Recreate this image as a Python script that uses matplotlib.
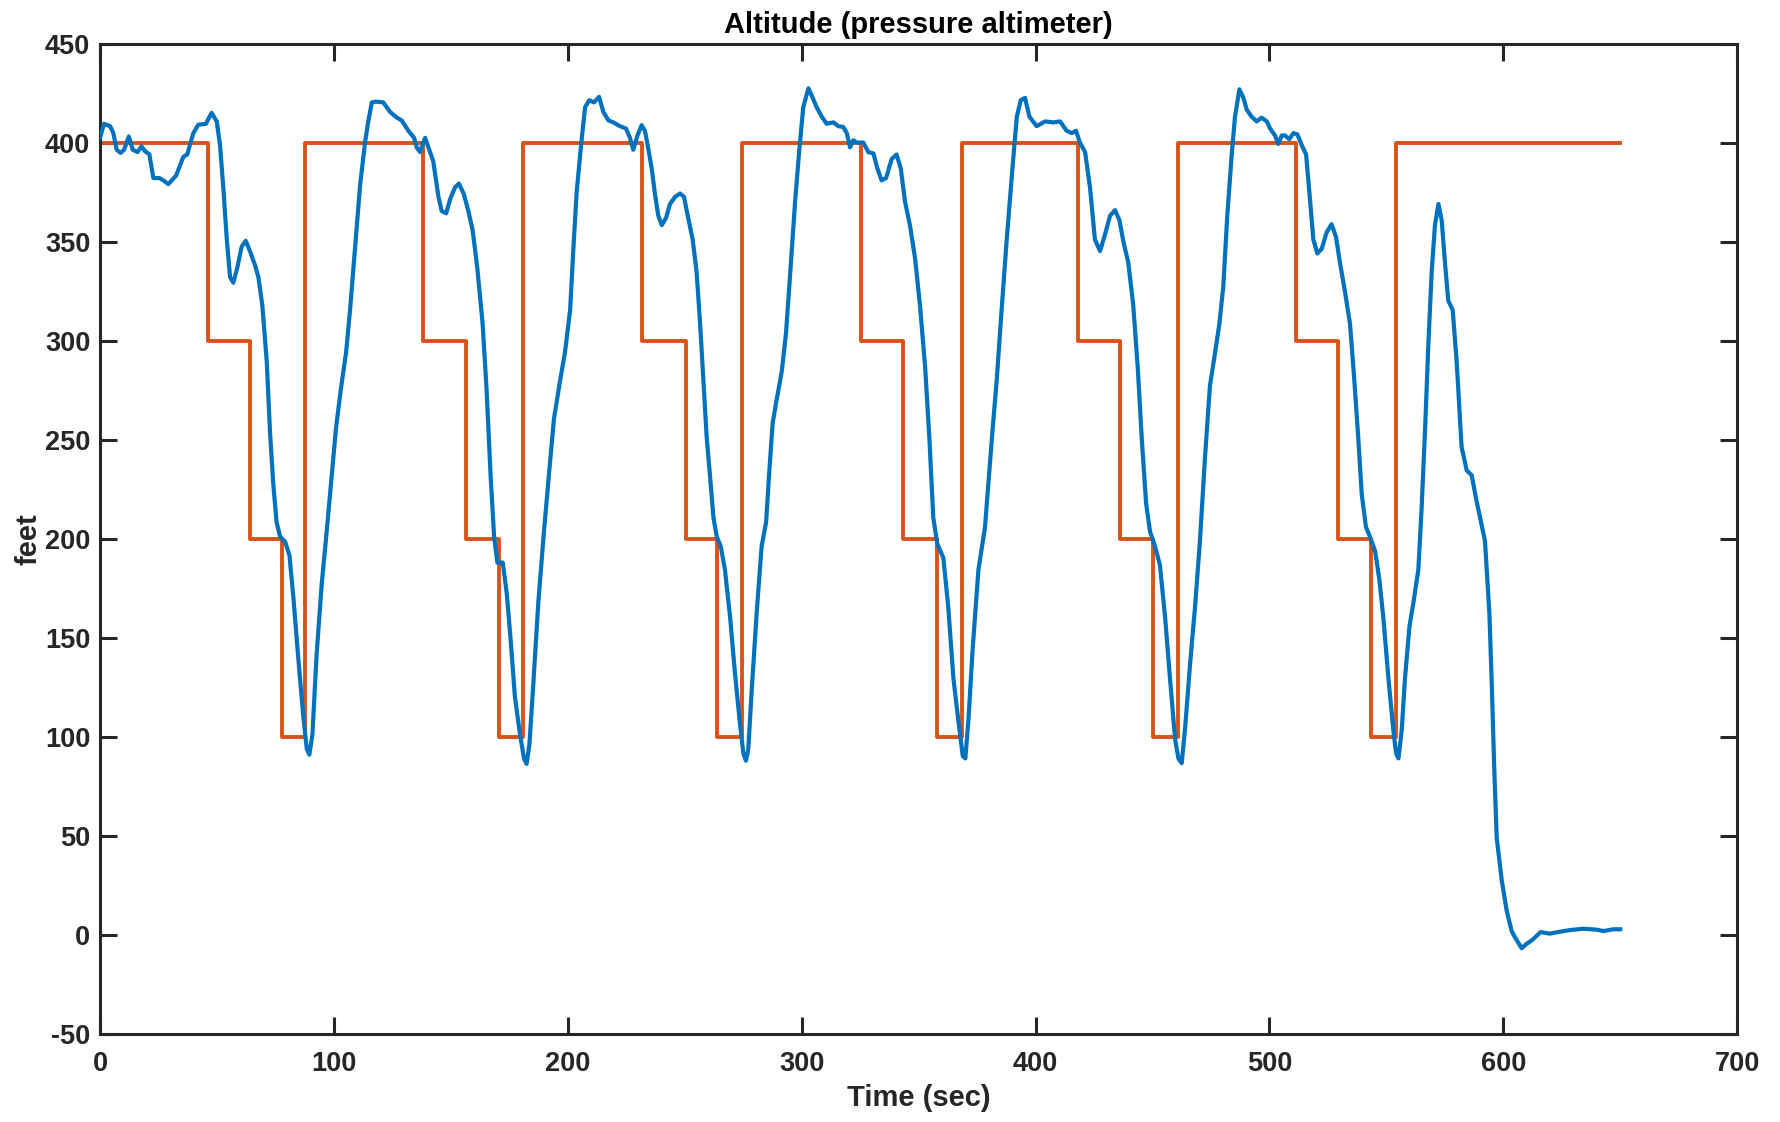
import matplotlib.pyplot as plt

# altitude command (step profile), sec / feet
cmd_t = [0, 46.0, 64.1, 77.7, 87.8,
         138.3, 156.5, 170.4, 180.9,
         231.9, 250.4, 264.0, 274.3,
         325.2, 343.5, 357.7, 368.5,
         418.3, 436.2, 450.1, 460.9,
         511.3, 529.5, 543.5, 554.0, 650.0]
cmd_alt = [400, 300, 200, 100, 400,
           300, 200, 100, 400,
           300, 200, 100, 400,
           300, 200, 100, 400,
           300, 200, 100, 400,
           300, 200, 100, 400, 400]

alt_t = [0, 1.7, 4.3, 5.7, 7.1, 8.8, 10.3, 12.3, 14.0, 16.0, 17.7, 19.2, 21.1, 22.8,
         25.4, 27.1, 29.2, 32.5, 35.6, 37.3, 39.9, 42.0, 45.3, 46.3, 47.7, 49.9, 51.3,
         52.7, 54.2, 55.6, 57.0, 58.7, 60.6, 62.3, 64.1, 66.3, 67.7, 69.4, 71.3, 72.7,
         74.1, 75.5, 77.0, 79.1, 81.0, 82.7, 84.8, 86.9, 88.4, 89.5, 90.8, 92.6, 94.8,
         96.9, 99.1, 100.9, 102.9, 105.2, 106.9, 109.0, 111.2, 113.3, 114.7, 116.2,
         118.0, 121.1, 124.0, 126.9, 129.0, 131.8, 134.3, 135.4, 136.8, 139.0, 141.1,
         142.5, 144.7, 146.1, 148.0, 149.7, 151.8, 153.5, 155.6, 157.5, 159.3, 161.3,
         163.6, 165.3, 167.0, 168.5, 169.9, 172.2, 173.9, 175.6, 177.4, 179.6, 181.3,
         182.4, 183.6, 185.3, 187.4, 189.8, 192.1, 194.1, 196.7, 198.8, 201.0, 202.4,
         203.8, 205.7, 207.4, 209.2, 211.2, 213.4, 215.2, 217.4, 219.5, 222.3, 224.9,
         226.6, 228.0, 229.8, 231.6, 233.0, 234.5, 235.9, 237.3, 238.7, 240.2, 242.0,
         243.7, 245.9, 248.0, 249.7, 250.9, 253.4, 255.1, 256.6, 258.0, 259.4, 260.8,
         262.3, 263.7, 265.4, 267.2, 269.4, 271.5, 273.7, 275.1, 276.2, 277.2, 278.6,
         280.8, 282.9, 284.8, 286.2, 287.6, 289.3, 291.5, 293.3, 295.0, 297.2, 299.0,
         300.7, 302.9, 304.3, 306.4, 308.6, 310.7, 313.6, 315.7, 317.8, 319.3, 320.7,
         322.1, 323.5, 326.4, 328.5, 330.7, 332.4, 334.2, 336.1, 338.5, 340.6, 342.4,
         344.2, 346.3, 348.5, 350.6, 352.8, 354.6, 356.3, 358.0, 360.6, 362.7, 364.9,
         367.0, 368.9, 370.0, 371.3, 373.1, 375.6, 378.4, 379.8, 381.7, 383.4, 385.5,
         387.7, 389.8, 392.0, 393.7, 395.5, 397.4, 400.5, 404.1, 407.6, 410.5, 413.3,
         415.5, 417.3, 419.0, 421.2, 423.3, 425.4, 427.6, 429.7, 431.9, 434.0, 435.9,
         437.6, 439.7, 441.8, 443.7, 445.4, 447.3, 449.0, 451.1, 453.2, 455.4, 457.5,
         459.7, 461.1, 462.5, 463.9, 466.1, 468.2, 470.3, 472.5, 474.6, 476.8, 478.6,
         480.3, 482.0, 483.9, 485.3, 487.2, 488.9, 490.3, 492.4, 494.6, 496.7, 498.9,
         500.3, 502.4, 503.8, 505.3, 506.7, 508.5, 510.3, 512.0, 513.8, 515.7, 517.1,
         518.8, 520.5, 522.4, 524.5, 526.6, 528.5, 530.2, 532.3, 534.5, 536.2, 538.0,
         539.5, 541.3, 543.0, 545.2, 547.0, 548.7, 550.9, 553.0, 554.2, 555.2, 556.6,
         558.0, 559.9, 561.6, 563.7, 565.1, 566.6, 568.0, 569.4, 570.8, 572.3, 573.7,
         575.1, 576.5, 578.4, 580.1, 582.2, 584.4, 586.5, 588.4, 590.1, 592.2, 594.1,
         595.1, 596.1, 597.2, 599.4, 601.5, 603.6, 605.1, 607.9, 609.7, 612.2, 616.0,
         620.0, 624.3, 628.6, 634.3, 640.0, 642.8, 647.1, 650.0]
alt_ft = [402.6, 409.7, 408.5, 405.0, 396.6, 395.0, 396.6, 403.3, 396.6, 395.4, 398.3,
          395.9, 394.2, 382.3, 382.3, 381.1, 379.2, 383.5, 393.0, 394.2, 405.0, 409.2,
          409.7, 412.1, 415.2, 410.9, 399.0, 377.6, 351.3, 332.3, 329.4, 337.1, 347.8,
          350.6, 345.4, 338.2, 332.3, 318.0, 289.4, 253.6, 227.4, 208.4, 201.2, 198.8,
          191.7, 170.2, 139.3, 110.7, 94.0, 91.1, 101.1, 141.6, 177.4, 203.6, 232.2,
          256.0, 275.1, 294.1, 315.6, 346.6, 378.7, 400.2, 410.9, 420.5, 420.9, 420.5,
          415.7, 412.8, 411.4, 406.2, 402.6, 397.8, 395.4, 402.6, 395.4, 390.7, 372.8,
          365.6, 364.5, 371.6, 377.6, 379.5, 374.0, 365.6, 356.1, 337.1, 308.5, 275.1,
          232.2, 201.2, 188.1, 188.1, 172.6, 148.8, 120.2, 101.1, 89.2, 86.4, 96.4,
          127.4, 167.9, 203.6, 234.6, 260.8, 279.9, 294.2, 315.6, 346.6, 375.2, 399.0,
          418.1, 421.6, 420.5, 423.3, 415.7, 411.4, 410.4, 408.5, 407.3, 402.6, 396.6,
          403.8, 409.0, 406.2, 396.6, 387.1, 374.0, 363.3, 358.5, 362.1, 369.2, 372.8,
          374.5, 372.8, 365.6, 351.3, 334.7, 308.5, 279.9, 251.3, 232.2, 210.7, 201.2,
          196.4, 184.5, 160.7, 132.1, 105.9, 91.6, 88.0, 94.0, 122.6, 163.1, 196.4,
          208.4, 234.6, 258.4, 270.3, 284.6, 303.7, 332.3, 370.4, 396.6, 418.1, 427.6,
          424.0, 418.1, 413.3, 409.7, 410.4, 408.5, 408.1, 405.0, 397.8, 401.4, 400.2,
          400.2, 395.4, 394.7, 387.1, 381.1, 382.3, 391.9, 394.2, 387.1, 370.4, 358.5,
          341.8, 318.0, 287.0, 251.3, 210.7, 197.6, 190.5, 165.5, 129.7, 108.3, 90.4,
          89.2, 108.3, 144.0, 184.5, 206.0, 227.4, 256.0, 279.9, 315.6, 351.3, 382.3,
          413.3, 421.6, 422.8, 413.3, 408.5, 410.9, 410.4, 410.9, 406.2, 405.0, 406.2,
          400.2, 395.4, 377.6, 351.3, 345.4, 353.7, 363.3, 366.1, 360.9, 350.1, 339.4,
          318.0, 287.0, 251.3, 217.9, 203.6, 196.4, 186.9, 160.7, 129.7, 98.8, 89.2,
          86.8, 103.5, 136.9, 165.5, 198.8, 241.7, 277.5, 294.2, 308.5, 327.5, 363.3,
          394.2, 413.3, 427.1, 422.8, 416.9, 413.3, 410.9, 412.8, 410.9, 407.3, 403.8,
          399.5, 403.8, 403.8, 401.9, 405.0, 404.3, 399.0, 394.2, 375.2, 351.3, 344.2,
          346.6, 354.9, 359.0, 352.5, 339.4, 325.1, 308.5, 282.2, 251.3, 222.6, 206.0,
          201.2, 194.0, 179.8, 160.7, 129.7, 103.5, 91.6, 89.2, 103.5, 129.7, 155.9,
          167.9, 184.5, 215.5, 256.0, 298.9, 334.7, 358.5, 369.2, 360.9, 339.4, 320.4,
          315.6, 289.4, 246.5, 234.6, 232.2, 220.3, 210.7, 199.0, 162.0, 126.6, 86.2,
          49.2, 27.3, 12.1, 2.0, -1.3, -6.7, -4.7, -2.7, 1.5, 0.7, 1.7, 2.5, 3.2, 2.7,
          2.0, 2.9, 2.9]

plt.rcParams['font.family'] = ['Liberation Sans', 'DejaVu Sans']
plt.rcParams['font.weight'] = 'bold'
plt.rcParams['axes.unicode_minus'] = False

fig = plt.figure(figsize=(17.8, 11.22), dpi=100)
ax = fig.add_axes([0.0562, 0.0784, 0.9197, 0.8824])

ax.plot(alt_t, alt_ft, color='#0072BD', lw=3.0, zorder=3, solid_joinstyle='round')
ax.plot(cmd_t, cmd_alt, color='#D95319', lw=2.8, drawstyle='steps-post', zorder=2)

ax.set_xlim(0, 700)
ax.set_ylim(-50, 450)
ax.set_xticks(range(0, 701, 100))
ax.set_yticks(range(-50, 451, 50))

dark = '#262626'
for s in ax.spines.values():
    s.set_linewidth(2.2)
    s.set_color(dark)
ax.tick_params(direction='in', length=12, width=2.2, color=dark,
               top=True, right=True, labelsize=19.5, labelcolor=dark)
ax.tick_params(axis='x', pad=12)
ax.tick_params(axis='y', pad=7)
for lab in ax.get_xticklabels() + ax.get_yticklabels():
    lab.set_fontweight('bold')

ax.set_title('Altitude (pressure altimeter)', fontsize=21, fontweight='bold', color='black', pad=8)
ax.set_xlabel('Time (sec)', fontsize=21, fontweight='bold', color=dark, labelpad=5)
ax.set_ylabel('feet', fontsize=21, fontweight='bold', color=dark, labelpad=2)

fig.savefig('out.png', dpi=100)
